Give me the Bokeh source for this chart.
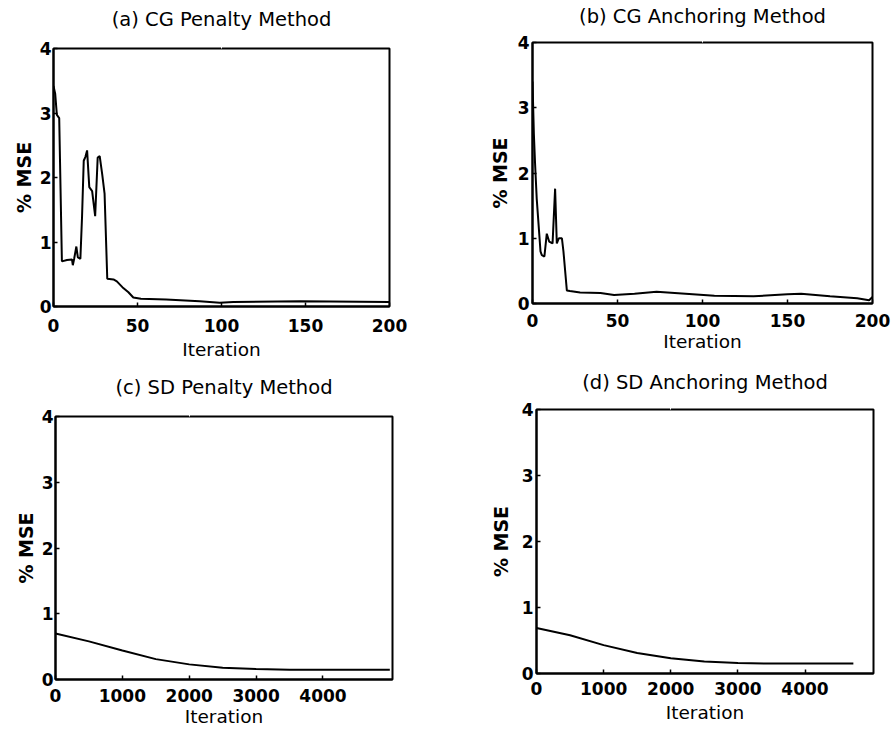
from bokeh.plotting import figure
from bokeh.layouts import column, row
from bokeh.models import Range1d, FixedTicker, LinearAxis
from bokeh.embed import file_html
from bokeh.resources import INLINE

# ---------------- data ----------------
titles = ["(a) CG Penalty Method", "(b) CG Anchoring Method",
          "(c) SD Penalty Method", "(d) SD Anchoring Method"]
y_label = "% MSE"
x_label = "Iteration"
y_ticks = [0, 1, 2, 3, 4]
cg_x_ticks = [0, 50, 100, 150, 200]
sd_x_ticks = [0, 1000, 2000, 3000, 4000]

a_iter = [0, 1, 2, 3.4, 5, 8, 11, 11.5, 12.3, 13.6, 14.5, 16, 17, 18, 19, 20,
          21.3, 23, 24.8, 26.3, 27.5, 29, 30.4, 32, 35.7, 37.7, 41, 44.6, 47.5,
          52, 67, 87, 99, 107, 147, 200]
a_mse = [3.42, 3.3, 2.97, 2.92, 0.70, 0.72, 0.73, 0.64, 0.74, 0.93, 0.76, 0.74,
         1.4, 2.26, 2.32, 2.42, 1.85, 1.79, 1.40, 2.31, 2.33, 2.05, 1.75, 0.43,
         0.42, 0.39, 0.30, 0.22, 0.14, 0.12, 0.11, 0.08, 0.06, 0.07, 0.08, 0.07]

b_iter = [0, 0.8, 1.5, 2.5, 4.7, 5.5, 7, 8.4, 9.8, 11.8, 13.3, 14.3, 15.5, 17.3,
          18.2, 20.2, 22, 28, 40, 48, 60, 73, 90, 107, 130, 150, 158, 175, 191,
          198, 200]
b_mse = [3.4, 2.6, 2.15, 1.6, 0.8, 0.74, 0.72, 1.07, 0.95, 0.92, 1.76, 0.92, 1.0,
         1.0, 0.8, 0.2, 0.19, 0.17, 0.16, 0.13, 0.15, 0.18, 0.15, 0.12, 0.11,
         0.14, 0.15, 0.11, 0.08, 0.05, 0.1]

c_iter = [0, 500, 1000, 1500, 2000, 2500, 3000, 3500, 4000, 4500, 5000]
c_mse = [0.70, 0.58, 0.44, 0.31, 0.23, 0.18, 0.16, 0.15, 0.15, 0.15, 0.15]

d_iter = [0, 500, 1000, 1500, 2000, 2500, 3000, 3500, 4000, 4500, 4720]
d_mse = [0.69, 0.58, 0.43, 0.31, 0.23, 0.18, 0.16, 0.15, 0.15, 0.15, 0.15]

FONT = "DejaVu Sans"


def make_panel(title, xs, ys, x_end, x_ticks, fw, fh, ml, mr, mt, mb,
               title_gap, x_standoff, x_label_standoff, y_standoff,
               y_label_standoff):
    p = figure(frame_width=fw, frame_height=fh,
               min_border_left=ml, min_border_right=mr,
               min_border_top=mt, min_border_bottom=mb,
               x_range=Range1d(0, x_end), y_range=Range1d(0, 4),
               output_backend="svg", toolbar_location=None, title=title)
    p.background_fill_color = "white"
    p.border_fill_color = "white"
    p.outline_line_color = "black"
    p.outline_line_width = 2
    p.xgrid.visible = False
    p.ygrid.visible = False

    p.title.text_font = FONT
    p.title.text_font_size = "19.5px"
    p.title.text_font_style = "normal"
    p.title.text_color = "black"
    p.title.align = "center"
    p.title.standoff = 0

    xax = p.below[0]
    yax = p.left[0]
    for ax, ticks in ((xax, x_ticks), (yax, y_ticks)):
        ax.ticker = FixedTicker(ticks=ticks)
        ax.major_tick_in = 4
        ax.major_tick_out = 0
        ax.minor_tick_line_color = None
        ax.axis_line_width = 2
        ax.major_tick_line_width = 1.5
        ax.major_label_text_font = FONT
        ax.major_label_text_font_size = "17px"
        ax.major_label_text_font_style = "bold"
        ax.major_label_text_color = "black"
        ax.axis_label_text_font = FONT
        ax.axis_label_text_color = "black"

    xax.axis_label = x_label
    xax.axis_label_text_font_size = "18.5px"
    xax.axis_label_text_font_style = "normal"
    xax.major_label_standoff = x_standoff
    xax.axis_label_standoff = x_label_standoff

    yax.axis_label = y_label
    yax.axis_label_text_font_size = "19px"
    yax.axis_label_text_font_style = "bold"
    yax.major_label_standoff = y_standoff
    yax.axis_label_standoff = y_label_standoff

    # an invisible spacer axis above the frame sets the gap below the title
    spacer = LinearAxis(ticker=FixedTicker(ticks=[x_ticks[2]]))
    spacer.axis_line_color = None
    spacer.major_tick_line_color = "white"
    spacer.minor_tick_line_color = None
    spacer.major_tick_in = 0
    spacer.major_tick_out = title_gap
    spacer.minor_tick_out = 0
    spacer.major_label_standoff = 0
    spacer.major_label_text_font_size = "1px"
    spacer.major_label_text_color = None
    p.add_layout(spacer, "above")

    p.line(xs, ys, line_color="black", line_width=2)
    return p


# row 1 is 364 px tall, row 2 is 367 px tall; widths 445 + 448
pa = make_panel(titles[0], a_iter, a_mse, 200, cg_x_ticks,
                336, 258, 53, 56, 48, 58, 18, 12, 4, 2, 2)
pb = make_panel(titles[1], b_iter, b_mse, 200, cg_x_ticks,
                340, 261, 87, 21, 42, 61, 15, 10, 1, 3, 4)
pc = make_panel(titles[2], c_iter, c_mse, 5040, sd_x_ticks,
                337, 263, 55, 53, 52, 52, 18, 9, 1, 2, 2)
pd = make_panel(titles[3], d_iter, d_mse, 5020, sd_x_ticks,
                337, 264, 91, 20, 45, 58, 16, 8, 4, 3, 7)

layout = column(row(column(pa), column(pb)), row(column(pc), column(pd)))

with open("out.html", "w") as f:
    f.write(file_html(layout, INLINE))
